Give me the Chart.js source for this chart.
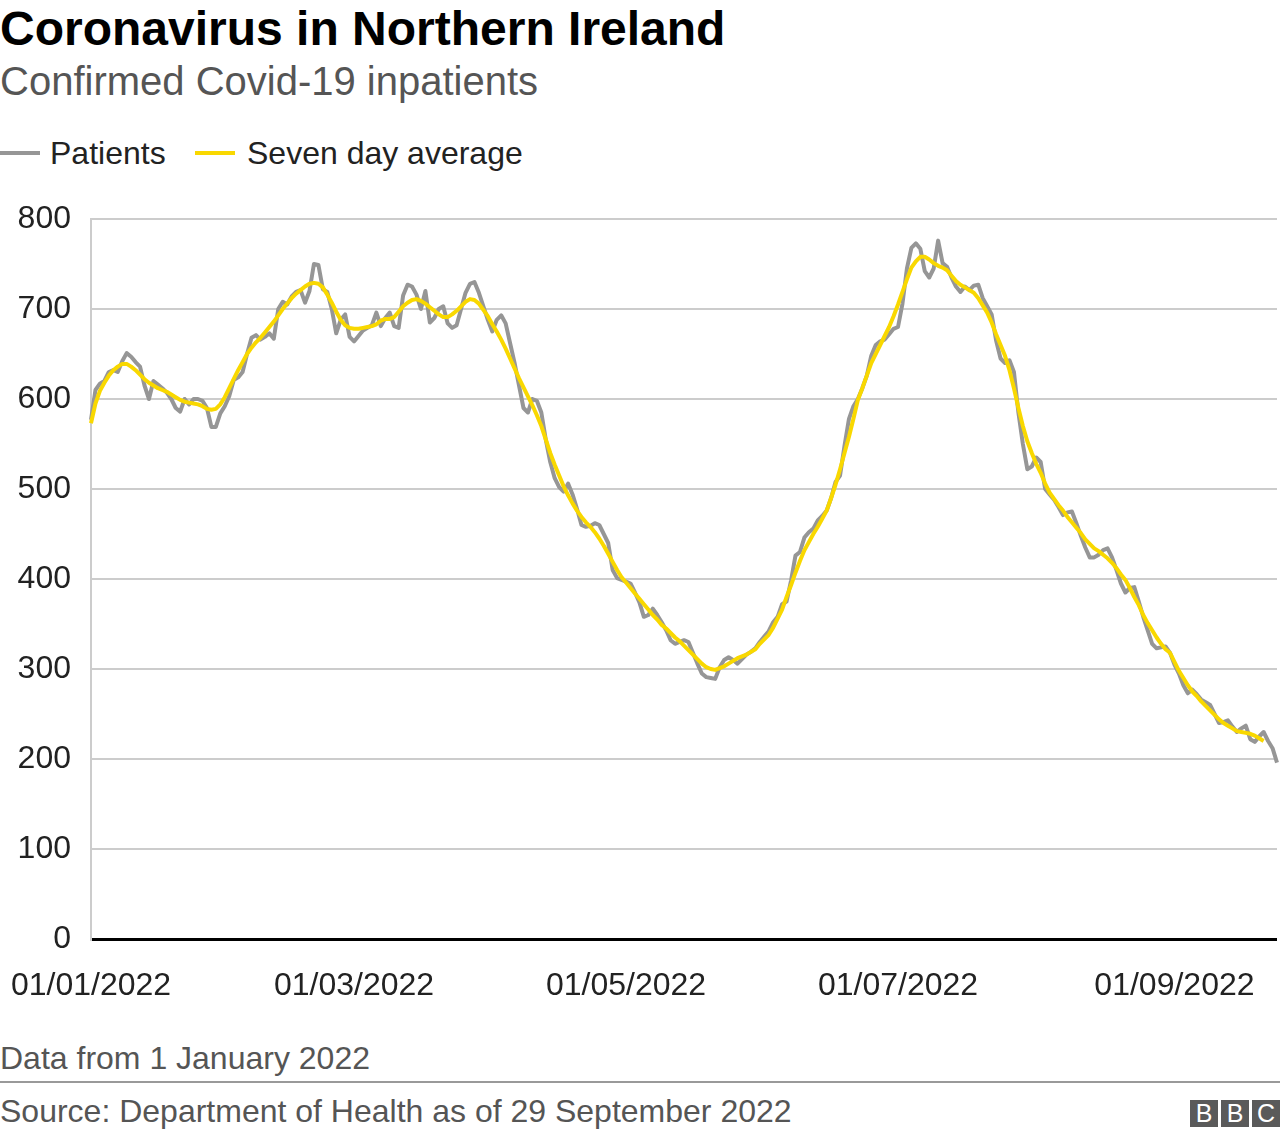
<!DOCTYPE html>
<html>
<head>
<meta charset="utf-8">
<title>Coronavirus in Northern Ireland</title>
<script src="https://cdn.jsdelivr.net/npm/chart.js@4.4.1/dist/chart.umd.min.js"></script>
<style>
  body { margin: 0; width: 1280px; height: 1138px; background: #fff; position: relative; overflow: hidden;
         font-family: "Liberation Sans", Arial, Helvetica, sans-serif; }
  .abs { position: absolute; white-space: nowrap; }
  #title { left: 0; top: 5px; font-size: 48px; line-height: 48px; font-weight: bold; color: #000; }
  #subtitle { left: 0; top: 61px; font-size: 40px; line-height: 40px; color: #555; }
  .legend { top: 137px; font-size: 32px; line-height: 32px; color: #222; }
  .swatch { top: 151px; width: 40px; height: 4px; }
  #chartBox { left: 0; top: 190px; width: 1280px; height: 820px; }
  #note { left: 0; top: 1042px; font-size: 32px; line-height: 32px; color: #555; }
  #rule { left: 0; top: 1081px; width: 1280px; height: 2px; background: #999; }
  #source { left: 0; top: 1095px; font-size: 32px; line-height: 32px; color: #555; }
  .bbc { top: 1100px; width: 28px; height: 27px; background: #5a5a5a; color: #fff;
         font-size: 25px; line-height: 27px; text-align: center; }
</style>
</head>
<body>
<div id="title" class="abs">Coronavirus in Northern Ireland</div>
<div id="subtitle" class="abs">Confirmed Covid-19 inpatients</div>

<div class="abs swatch" style="left:0; background:#969696;"></div>
<div class="abs legend" style="left:50px;">Patients</div>
<div class="abs swatch" style="left:195px; background:#f9d800;"></div>
<div class="abs legend" style="left:247px;">Seven day average</div>

<div id="chartBox" class="abs"><canvas id="myChart" width="1280" height="820"></canvas></div>

<div id="note" class="abs">Data from 1 January 2022</div>
<div id="rule" class="abs"></div>
<div id="source" class="abs">Source: Department of Health as of 29 September 2022</div>
<div class="abs bbc" style="left:1190px;">B</div>
<div class="abs bbc" style="left:1221px;">B</div>
<div class="abs bbc" style="left:1252px;">C</div>

<script>
// daily patients, from 1 January 2022
const patients = [
  577, 610, 617, 620, 630, 632, 630, 642, 651, 647,
  641, 636, 615, 600, 620, 616, 612, 607, 600, 590,
  586, 600, 594, 600, 600, 598, 590, 569, 569, 584,
  592, 603, 621, 624, 630, 650, 668, 671, 666, 669,
  673, 667, 700, 708, 705, 714, 719, 721, 707, 720,
  750, 749, 722, 719, 700, 673, 688, 694, 669, 664,
  670, 676, 679, 682, 696, 681, 690, 696, 681, 679,
  715, 727, 725, 716, 700, 720, 685, 690, 700, 703,
  684, 679, 682, 700, 718, 728, 730, 718, 703, 688,
  675, 688, 693, 684, 662, 640, 615, 590, 585, 600,
  598, 585, 555, 530, 512, 502, 497, 506, 494, 478,
  460, 458, 459, 462, 460, 450, 440, 410, 401, 399,
  397, 395, 385, 374, 358, 360, 367, 360, 352, 343,
  332, 328, 330, 332, 330, 318, 306, 295, 291, 290,
  289, 302, 310, 313, 310, 306, 311, 316, 319, 323,
  330, 336, 342, 352, 358, 372, 375, 398, 426, 430,
  446, 452, 456, 465, 470, 476, 490, 508, 515, 548,
  578, 592, 600, 612, 626, 648, 660, 664, 666, 672,
  678, 680, 706, 745, 768, 773, 767, 742, 735, 745,
  776, 751, 747, 735, 725, 719, 725, 721, 726, 727,
  712, 703, 694, 665, 645, 640, 643, 630, 585, 550,
  522, 525, 535, 530, 500, 494, 488, 480, 471, 474,
  475, 462, 448, 435, 424, 424, 427, 432, 434, 424,
  410, 395, 385, 390, 391, 375, 358, 343, 328, 323,
  324, 325, 318, 305, 295, 282, 273, 277, 272, 266,
  263, 260, 250, 240, 241, 243, 236, 230, 234, 237,
  222, 219, 225, 230, 220, 212, 196
];

// seven day average (stops three days before the last patient value)
const sevenDayAvg = [
  573, 595, 609, 618, 626, 632, 636, 639, 639, 636,
  632, 627, 622, 618, 615, 612, 610, 608, 605, 602,
  599, 597, 596, 595, 594, 592, 589, 588, 589, 594,
  602, 612, 622, 632, 641, 650, 657, 663, 668, 674,
  680, 686, 693, 700, 706, 712, 717, 721, 725, 728,
  729, 728, 724, 716, 707, 697, 688, 682, 679, 678,
  678, 679, 680, 681, 683, 687, 689, 689, 691, 697,
  703, 707, 710, 711, 709, 706, 702, 698, 694, 691,
  691, 694, 698, 703, 708, 711, 710, 706, 699, 692,
  683, 675, 666, 656, 645, 634, 623, 613, 603, 593,
  582, 570, 555, 540, 527, 515, 503, 493, 484, 476,
  469, 463, 458, 452, 445, 437, 428, 419, 410, 402,
  396, 390, 384, 378, 372, 366, 360, 355, 349, 345,
  340, 335, 331, 326, 321, 316, 311, 306, 302, 300,
  299, 301, 303, 306, 309, 312, 314, 316, 319, 322,
  328, 333, 338, 346, 356, 366, 380, 393, 407, 420,
  432, 441, 450, 458, 467, 476, 490, 505, 522, 540,
  558, 578, 599, 612, 626, 640, 650, 660, 670, 680,
  692, 705, 719, 733, 746, 753, 758, 758, 755, 751,
  748, 746, 743, 737, 731, 727, 724, 721, 718, 712,
  704, 696, 685, 672, 660, 648, 632, 612, 590, 570,
  553, 540, 528, 518, 506, 496, 489, 482, 476, 469,
  463, 457, 451, 444, 439, 434, 431, 427, 423, 418,
  412, 405, 399, 390, 380, 371, 360, 351, 343, 335,
  328, 322, 318, 308, 298, 290, 282, 275, 270, 264,
  259, 254, 249, 244, 240, 237, 234, 231, 230, 229,
  228, 226, 223, 220
];

const tickLabels = ['01/01/2022', '01/03/2022', '01/05/2022', '01/07/2022', '01/09/2022'];

const pad = n => String(n).padStart(2, '0');
const dates = patients.map((_, i) => {
  const d = new Date(2022, 0, 1 + i);
  return pad(d.getDate()) + '/' + pad(d.getMonth() + 1) + '/' + d.getFullYear();
});

const font = { family: '"Liberation Sans", Arial, Helvetica, sans-serif', size: 32 };

const ctx = document.getElementById('myChart').getContext('2d');
const myChart = new Chart(ctx, {
  type: 'line',
  data: {
    labels: dates,
    datasets: [{
      label: 'Patients',
      data: patients,
      borderColor: '#969696',
      borderWidth: 4,
      order: 1
    }, {
      label: 'Seven day average',
      data: sevenDayAvg,
      borderColor: '#f9d800',
      borderWidth: 4,
      order: 0
    }]
  },
  options: {
    responsive: false,
    animation: false,
    layout: { padding: { top: 29, right: 3, left: 0, bottom: 0 } },
    elements: { point: { radius: 0 }, line: { tension: 0, borderJoinStyle: 'round', borderCapStyle: 'butt' } },
    plugins: { legend: { display: false }, tooltip: { enabled: false } },
    scales: {
      x: {
        offset: false,
        grid: { display: true, drawOnChartArea: false, drawTicks: true, tickLength: 28, color: 'rgba(0,0,0,0)' },
        border: { display: false },
        ticks: { autoSkip: false, maxRotation: 0, padding: 0, color: '#222', font: font },
        afterBuildTicks: scale => {
          const labels = scale.getLabels();
          scale.ticks = scale.ticks.filter(t => tickLabels.includes(labels[t.value]));
        },
        afterFit: scale => { scale.height = 71; }
      },
      y: {
        min: 0,
        max: 800,
        ticks: { stepSize: 100, padding: 0, color: '#222', font: font },
        grid: {
          color: c => c.tick && c.tick.value === 0 ? '#000' : '#cccccc',
          lineWidth: c => c.tick && c.tick.value === 0 ? 3 : 2,
          drawTicks: true,
          tickLength: 20,
          tickColor: 'rgba(0,0,0,0)'
        },
        border: { display: true, color: '#cccccc', width: 2 },
        afterFit: scale => { scale.width = 91; }
      }
    }
  }
});
</script>
</body>
</html>
